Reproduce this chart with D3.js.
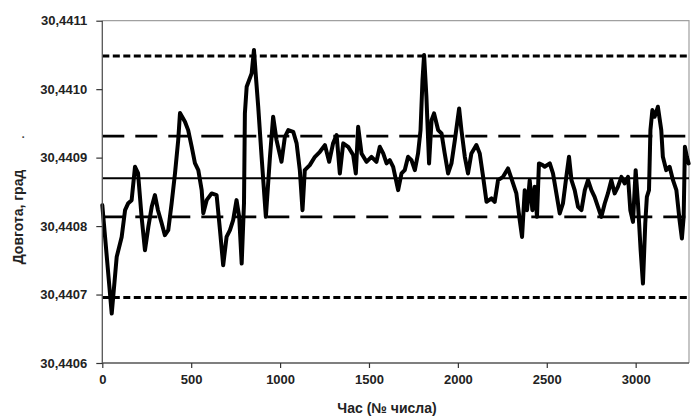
<!DOCTYPE html>
<html>
<head>
<meta charset="utf-8">
<script src="https://cdn.jsdelivr.net/npm/d3@7/dist/d3.min.js"></script>
<style>
  html, body { margin: 0; padding: 0; background: #fff; }
  svg { display: block; font-family: "Liberation Sans", Arial, sans-serif; }
</style>
</head>
<body>
<svg id="chart" width="695" height="417"></svg>
<script>
// ---- data ----
const hours = [0,53,81,109,128,146,165,184,201,221,240,259,278,296,313,334,352,371,390,409,427,437,465,483,503,521,540,559,568,587,615,643,662,680,699,718,736,755,770,784,797,802,812,840,853,864,877,896,920,943,961,980,1008,1027,1046,1074,1093,1111,1126,1139,1167,1196,1224,1252,1276,1298,1318,1336,1355,1383,1411,1426,1439,1458,1486,1514,1542,1561,1580,1599,1617,1636,1664,1683,1701,1720,1739,1758,1776,1790,1801,1810,1823,1838,1852,1866,1889,1908,1926,1945,1964,1983,2007,2020,2039,2057,2076,2104,2123,2142,2161,2189,2207,2226,2254,2282,2301,2329,2348,2361,2376,2389,2404,2419,2432,2445,2456,2477,2488,2517,2535,2554,2573,2591,2610,2625,2639,2657,2676,2695,2714,2732,2751,2769,2788,2807,2826,2844,2863,2882,2900,2920,2938,2957,2970,2985,3000,3013,3028,3041,3054,3063,3075,3083,3094,3107,3125,3144,3153,3172,3191,3210,3229,3247,3260,3270,3277,3288,3298];
const longitude = [30.4408306,30.4406722,30.4407550,30.4407842,30.4408232,30.4408335,30.4408379,30.4408866,30.4408773,30.4408135,30.4407648,30.4407988,30.4408281,30.4408452,30.4408232,30.4408042,30.4407867,30.4407940,30.4408335,30.4408773,30.4409256,30.4409651,30.4409523,30.4409402,30.4409158,30.4408920,30.4408817,30.4408525,30.4408189,30.4408379,30.4408477,30.4408452,30.4407940,30.4407428,30.4407842,30.4407940,30.4408086,30.4408379,30.4408135,30.4407453,30.4408335,30.4409646,30.4410035,30.4410231,30.4410572,30.4410181,30.4409743,30.4409012,30.4408135,30.4409012,30.4409597,30.4409256,30.4408939,30.4409304,30.4409402,30.4409377,30.4409208,30.4408817,30.4408232,30.4408817,30.4408890,30.4409012,30.4409085,30.4409183,30.4408939,30.4409208,30.4409329,30.4408769,30.4409208,30.4409158,30.4409037,30.4408769,30.4409450,30.4409061,30.4408939,30.4409012,30.4408939,30.4409158,30.4409061,30.4408915,30.4408963,30.4408866,30.4408525,30.4408769,30.4408817,30.4409012,30.4408963,30.4408817,30.4409061,30.4409402,30.4410133,30.4410499,30.4409889,30.4408915,30.4409548,30.4409646,30.4409402,30.4409354,30.4409061,30.4408769,30.4408915,30.4409256,30.4409719,30.4409402,30.4409012,30.4408769,30.4409061,30.4409183,30.4409061,30.4408719,30.4408354,30.4408404,30.4408354,30.4408671,30.4408719,30.4408842,30.4408696,30.4408477,30.4408086,30.4407842,30.4408525,30.4408232,30.4408671,30.4408232,30.4408573,30.4408135,30.4408915,30.4408890,30.4408866,30.4408915,30.4408769,30.4408477,30.4408184,30.4408330,30.4408719,30.4409012,30.4408671,30.4408525,30.4408281,30.4408232,30.4408525,30.4408671,30.4408525,30.4408427,30.4408281,30.4408135,30.4408330,30.4408477,30.4408671,30.4408477,30.4408573,30.4408719,30.4408623,30.4408719,30.4408232,30.4408061,30.4408817,30.4408330,30.4407648,30.4407161,30.4408038,30.4408427,30.4408525,30.4409402,30.4409694,30.4409597,30.4409743,30.4409402,30.4409012,30.4408817,30.4408866,30.4408671,30.4408525,30.4408086,30.4407819,30.4408135,30.4409158,30.4409012,30.4408915];
const meanValue = 30.44087;
const sigmaBand = [30.4408134, 30.4409314];   // long dashes
const threeSigmaBand = [30.4406956, 30.4410484]; // short dashes
const xTicks = [0, 500, 1000, 1500, 2000, 2500, 3000];
const yTicks = [30.4406, 30.4407, 30.4408, 30.4409, 30.4410, 30.4411];
const xTitle = "Час (№ числа)";
const yTitle = "Довгота, град";

// ---- layout ----
const svg = d3.select("#chart");
const pL = 102.3, pR = 689, pT = 20.7, pB = 363;
const x = d3.scaleLinear().domain([0, 3300]).range([pL, pR]);
const y = d3.scaleLinear().domain([30.4406, 30.4411]).range([pB, pT]);
const fmt = d => d.toFixed(4).replace(".", ",");

// frame (top/right)
svg.append("path")
  .attr("d", `M${pL},${pT}H${pR}V${pB}`)
  .attr("fill", "none").attr("stroke", "#a0a0a0").attr("stroke-width", 1.2);

// reference lines
const refs = [
  {v: threeSigmaBand[1], dash: "7,3.5", w: 3},
  {v: threeSigmaBand[0], dash: "7,3.5", w: 3},
  {v: sigmaBand[1], dash: "22,11", w: 2.6},
  {v: sigmaBand[0], dash: "22,11", w: 2.6},
  {v: meanValue, dash: null, w: 2}
];
svg.append("g").selectAll("line").data(refs).join("line")
  .attr("x1", pL).attr("x2", pR)
  .attr("y1", d => y(d.v)).attr("y2", d => y(d.v))
  .attr("stroke", "#000").attr("stroke-width", d => d.w)
  .attr("stroke-dasharray", d => d.dash);

// data line
const pts = hours.map((h, i) => [h, longitude[i]]);
svg.append("path")
  .datum(pts)
  .attr("d", d3.line().x(d => x(d[0])).y(d => y(d[1])))
  .attr("fill", "none").attr("stroke", "#000").attr("stroke-width", 4)
  .attr("stroke-linejoin", "round").attr("stroke-linecap", "round");

// axes
const xAxis = svg.append("g").attr("transform", `translate(0,${pB})`)
  .call(d3.axisBottom(x).tickValues(xTicks).tickSize(5).tickPadding(7).tickFormat(d3.format("d")));
const yAxis = svg.append("g").attr("transform", `translate(${pL},0)`)
  .call(d3.axisLeft(y).tickValues(yTicks).tickSize(6).tickPadding(9).tickFormat(fmt));
[xAxis, yAxis].forEach(g => {
  g.select(".domain").attr("stroke", "#555").attr("stroke-width", 1.3);
  g.selectAll(".tick line").attr("stroke", "#333").attr("stroke-width", 1.2);
  g.selectAll("text").attr("fill", "#222").attr("font-size", 13).attr("font-weight", "bold")
    .attr("font-family", "'Liberation Sans', Arial, sans-serif");
});
xAxis.select(".domain").attr("d", `M${pL},0H${pR}`);
yAxis.select(".domain").attr("d", `M0,${pT}V${pB}`);

// titles
svg.append("text").attr("x", 387).attr("y", 413).attr("text-anchor", "middle")
  .attr("font-size", 14).attr("font-weight", "bold").attr("fill", "#222").text(xTitle);
svg.append("text").attr("transform", "translate(23,217) rotate(-90)").attr("text-anchor", "middle")
  .attr("font-size", 14).attr("font-weight", "bold").attr("fill", "#222").text(yTitle);
svg.append("text").attr("transform", "translate(24,137) rotate(-90)").attr("text-anchor", "middle")
  .attr("font-size", 10).attr("font-weight", "bold").attr("fill", "#222").text(".");
</script>
</body>
</html>
